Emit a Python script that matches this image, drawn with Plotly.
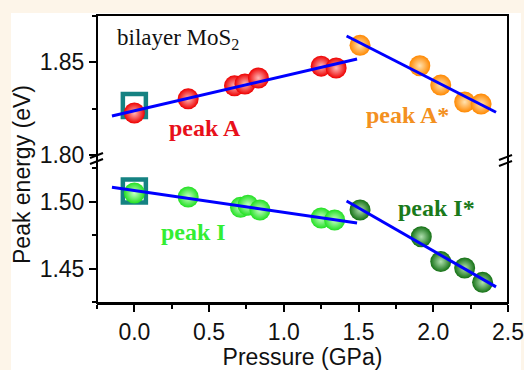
import plotly.graph_objects as go

# ---- data ----
peakA_x = [0.0, 0.36, 0.67, 0.74, 0.83, 1.25, 1.35]
peakA_y = [1.8226, 1.8302, 1.8372, 1.8382, 1.8414, 1.8478, 1.8468]
peakAs_x = [1.51, 1.91, 2.05, 2.21, 2.32]
peakAs_y = [1.8590, 1.8480, 1.8376, 1.8285, 1.8274]
peakI_x = [0.0, 0.36, 0.71, 0.76, 0.84, 1.25, 1.34]
peakI_y = [1.5067, 1.5037, 1.4960, 1.4975, 1.4940, 1.4880, 1.4865]
peakIs_x = [1.51, 1.92, 2.05, 2.21, 2.33]
peakIs_y = [1.4940, 1.4740, 1.4555, 1.4507, 1.4400]
ref_x = [0.0]
refA_y = [1.8266]
refI_y = [1.5082]
fitA_x = [-0.15, 1.49]; fitA_y = [1.8210, 1.8516]
fitAs_x = [1.42, 2.42]; fitAs_y = [1.8640, 1.8230]
fitI_x = [-0.15, 1.49]; fitI_y = [1.5110, 1.4843]
fitIs_x = [1.42, 2.42]; fitIs_y = [1.5007, 1.4366]
x_ticks = [0.0, 0.5, 1.0, 1.5, 2.0, 2.5]
upper_ticks = [1.80, 1.85]
lower_ticks = [1.45, 1.50]

W, H = 524, 370
ml, mr, mt, mb = 97, 16, 15, 67
pw, ph = W - ml - mr, H - mt - mb

def px(x):
    return (x - ml) / pw

def py(y):
    return (H - mb - y) / ph

fig = go.Figure()

def sphere(x, y, col, center, yax):
    fig.add_trace(go.Scatter(x=x, y=y, mode="markers", yaxis=yax, showlegend=False,
                             marker=dict(size=21, color=col,
                                         gradient=dict(type="radial", color=center),
                                         line=dict(width=0))))

def fit(x, y, yax):
    fig.add_trace(go.Scatter(x=x, y=y, mode="lines", yaxis=yax, showlegend=False,
                             line=dict(color="#0000ff", width=3)))

teal = "#158282"
fig.add_trace(go.Scatter(x=ref_x, y=refA_y, mode="markers", yaxis="y2", showlegend=False,
                         marker=dict(symbol="square-open", size=23, color=teal, line=dict(width=4.5, color=teal))))
fig.add_trace(go.Scatter(x=ref_x, y=refI_y, mode="markers", yaxis="y", showlegend=False,
                         marker=dict(symbol="square-open", size=23, color=teal, line=dict(width=4.5, color=teal))))

sphere(peakA_x, peakA_y, "#ee0000", "#ffb8b8", "y2")
sphere(peakAs_x, peakAs_y, "#ff8800", "#ffe2b0", "y2")
sphere(peakI_x, peakI_y, "#22e022", "#c8ffc8", "y")
sphere(peakIs_x, peakIs_y, "#137013", "#b0e0b0", "y")

fit(fitA_x, fitA_y, "y2")
fit(fitAs_x, fitAs_y, "y2")
fit(fitI_x, fitI_y, "y")
fit(fitIs_x, fitIs_y, "y")

axis_font = dict(family="Liberation Sans, Arial", size=23, color="#111111")
serif = "Liberation Serif, Times New Roman"

top_split = py(155)
low_split = py(162)

fig.update_layout(
    width=W, height=H,
    margin=dict(l=ml, r=mr, t=mt, b=mb),
    paper_bgcolor="#fdf5e9",
    plot_bgcolor="white",
    xaxis=dict(range=[-0.25, 2.5], domain=[0, 1], anchor="y", automargin=False,
               tickvals=x_ticks, ticktext=[f"{v:.1f}" for v in x_ticks],
               ticks="outside", ticklen=7, tickwidth=2, tickcolor="black",
               minor=dict(dtick=0.25, tick0=0, ticks="outside", ticklen=4, tickwidth=2, tickcolor="black"),
               showline=True, linecolor="black", linewidth=2, showgrid=False, zeroline=False,
               tickfont=axis_font,
               title=dict(text="Pressure (GPa)", font=axis_font, standoff=12)),
    yaxis=dict(domain=[0, low_split], range=[1.4246, 1.5298], anchor="x", automargin=False,
               tickvals=lower_ticks, ticktext=[f"{v:.2f}" for v in lower_ticks],
               ticks="outside", ticklen=7, tickwidth=2, tickcolor="black",
               minor=dict(dtick=0.025, tick0=1.45, ticks="outside", ticklen=4, tickwidth=2, tickcolor="black"),
               showline=False, showgrid=False, zeroline=False, tickfont=axis_font),
    yaxis2=dict(domain=[top_split, 1], range=[1.80, 1.8753], anchor="x", automargin=False,
                tickvals=upper_ticks, ticktext=[f"{v:.2f}" for v in upper_ticks],
                ticks="outside", ticklen=7, tickwidth=2, tickcolor="black",
                minor=dict(dtick=0.025, tick0=1.80, ticks="outside", ticklen=4, tickwidth=2, tickcolor="black"),
                showline=False, showgrid=False, zeroline=False, tickfont=axis_font),
)

shapes = [
    dict(type="rect", xref="paper", yref="paper", x0=px(11), x1=px(521), y0=py(372), y1=py(13),
         fillcolor="white", line=dict(width=0), layer="below"),
    dict(type="rect", xref="paper", yref="paper", x0=0, x1=1, y0=0, y1=1,
         line=dict(color="black", width=2), layer="above"),
]
# break marks
for (x0, y0, x1, y1) in [(90, 158, 103, 153), (90, 164, 103, 159),
                         (499, 160, 512, 155), (499, 166, 512, 161)]:
    shapes.append(dict(type="line", xref="paper", yref="paper", x0=px(x0), y0=py(y0), x1=px(x1), y1=py(y1),
                       line=dict(color="black", width=2)))
fig.update_layout(shapes=shapes)

ann = [
    dict(text="bilayer MoS<sub>2</sub>", x=0.29, y=1.8625, xref="x", yref="y2",
         font=dict(family=serif, size=23, color="#111111")),
    dict(text="<b>peak A</b>", x=0.473, y=1.8145, xref="x", yref="y2",
         font=dict(family=serif, size=24, color="#e8101a")),
    dict(text="<b>peak A*</b>", x=1.83, y=1.8215, xref="x", yref="y2",
         font=dict(family=serif, size=24, color="#f39020")),
    dict(text="<b>peak I</b>", x=0.395, y=1.4776, xref="x", yref="y",
         font=dict(family=serif, size=24, color="#33ee33")),
    dict(text="<b>peak I*</b>", x=2.02, y=1.4955, xref="x", yref="y",
         font=dict(family=serif, size=24, color="#1a7a1a")),
    dict(text="Peak energy (eV)", x=px(22), y=py(175), xref="paper", yref="paper",
         textangle=-90, font=axis_font),
]
for a in ann:
    a.update(showarrow=False, xanchor="center", yanchor="middle")
fig.update_layout(annotations=ann)

fig.write_html("out.html", config={"displayModeBar": False},
               post_script="document.body.style.margin='0';document.body.style.padding='0';")
